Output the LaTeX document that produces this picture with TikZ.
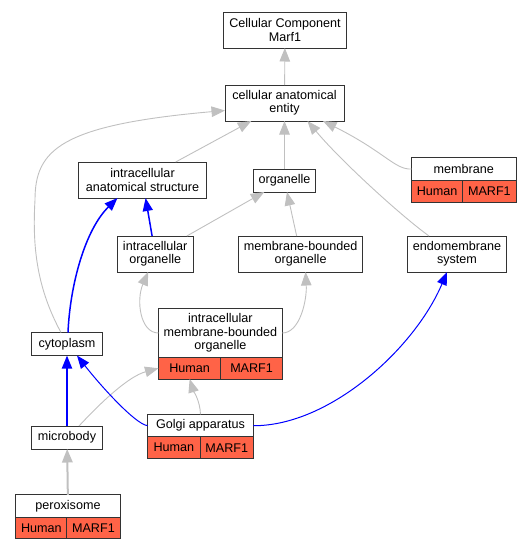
\documentclass[tikz,border=0pt]{standalone}
\usepackage{fontspec}
\setmainfont{Liberation Sans}
\usetikzlibrary{arrows.meta}
\definecolor{hitred}{HTML}{FF6347}
\definecolor{isagray}{HTML}{C0C0C0}
\definecolor{boxline}{HTML}{333333}

\begin{document}
\begin{tikzpicture}[
		x=1pt, y=-1pt,
		font=\fontsize{12.6}{13.4}\selectfont,
		term/.style={draw=boxline, line width=1pt, fill=white, align=center, inner sep=0pt, outer sep=0pt},
		hit/.style={term, fill=hitred, minimum height=21.5pt, anchor=north west},
		isa/.style={draw=isagray, line width=0.9pt, -{Triangle[length=13.5pt, width=10.5pt]}},
		partof/.style={draw=blue, line width=1pt, -{Triangle[length=13pt, width=10pt]}}
	]
	\useasboundingbox (0, 0) rectangle (532, 549);

	% terms
	\node[term, minimum width=123pt, minimum height=36pt] (root) at (285, 30) {Cellular Component\\Marf1};
	\node[term, minimum width=119pt, minimum height=36pt] (cae) at (284.5, 103) {cellular anatomical\\entity};
	\node[term, minimum width=127.6pt, minimum height=36pt] (ias) at (142.5, 180) {intracellular\\anatomical structure};
	\node[term, minimum width=62pt, minimum height=23pt] (organelle) at (284.5, 180.5) {organelle};

	\node[term, minimum width=104.4pt, minimum height=23pt] (membrane) at (463.8, 169) {membrane};
	\node[hit, minimum width=51.2pt] (membraneH) at (membrane.south west) {Human};
	\node[hit, minimum width=53.2pt] (membraneM) at (membraneH.north east) {MARF1};

	\node[term, minimum width=76.4pt, minimum height=36pt] (io) at (155.2, 254) {intracellular\\organelle};
	\node[term, minimum width=124.2pt, minimum height=36pt] (mbo) at (300.6, 254) {membrane-bounded\\organelle};
	\node[term, minimum width=99pt, minimum height=36pt] (es) at (457, 254) {endomembrane\\system};

	\node[term, minimum width=123.8pt, minimum height=49pt] (imbo) at (220.4, 333) {intracellular\\membrane-bounded\\organelle};
	\node[hit, minimum width=62.4pt] (imboH) at (imbo.south west) {Human};
	\node[hit, minimum width=61.4pt] (imboM) at (imboH.north east) {MARF1};

	\node[term, minimum width=71pt, minimum height=23pt] (cytoplasm) at (67, 344) {cytoplasm};
	\node[term, minimum width=71pt, minimum height=23pt] (microbody) at (67, 437.5) {microbody};

	\node[term, minimum width=105.9pt, minimum height=22.5pt] (golgi) at (200.5, 425.7) {Golgi apparatus};
	\node[hit, minimum width=52.6pt] (golgiH) at (golgi.south west) {Human};
	\node[hit, minimum width=53.3pt] (golgiM) at (golgiH.north east) {MARF1};

	\node[term, minimum width=104.2pt, minimum height=22.5pt] (perox) at (68, 506.2) {peroxisome};
	\node[hit, minimum width=50.9pt] (peroxH) at (perox.south west) {Human};
	\node[hit, minimum width=53.3pt] (peroxM) at (peroxH.north east) {MARF1};

	% is_a
	\draw[isa] (cae) -- (root);
	\draw[isa] (ias) -- (cae);
	\draw[isa] (organelle) -- (cae);
	\draw[isa] (membrane.west) .. controls (395, 170) and (385, 152) .. ([xshift=-21pt]cae.south east);
	\draw[isa] ([xshift=-28pt]es.north) .. controls (400, 215) and (340, 160) .. ([xshift=23pt]cae.south);
	\draw[isa] ([xshift=-6pt]cytoplasm.north) .. controls (38, 290) and (32, 250) .. (35, 200)
		.. controls (35, 150) and (60, 125) .. ([yshift=-7.5pt]cae.west);
	\draw[isa] (io) -- (organelle);
	\draw[isa] (mbo) -- (organelle);
	\draw[isa] (imbo.west) .. controls (140, 333) and (136, 300) .. ([xshift=-7pt]io.south);
	\draw[isa] (imbo.east) .. controls (300, 333) and (307, 300) .. ([xshift=5pt]mbo.south);
	\draw[isa] ([xshift=12pt]microbody.north) .. controls (105, 398) and (130, 376) .. (imboH.west);
	\draw[isa] (golgi.north) .. controls (200, 400) and (193, 390) .. (imboH.south);
	\draw[isa, line width=2pt] (perox) -- (microbody);

	% part_of
	\draw[partof, line width=1.5pt] (io) -- (ias);
	\draw[partof, line width=1.5pt] ([xshift=1pt]cytoplasm.north) .. controls (70, 285) and (85, 230) .. ([xshift=-25pt]ias.south);
	\draw[partof, line width=2pt] (microbody) -- (cytoplasm);
	\draw[partof] (golgi.west) .. controls (135, 424) and (100, 385) .. ([xshift=10pt]cytoplasm.south);
	\draw[partof] (golgi.east) .. controls (330, 426) and (415, 348) .. ([xshift=-10pt]es.south);
\end{tikzpicture}
\end{document}
